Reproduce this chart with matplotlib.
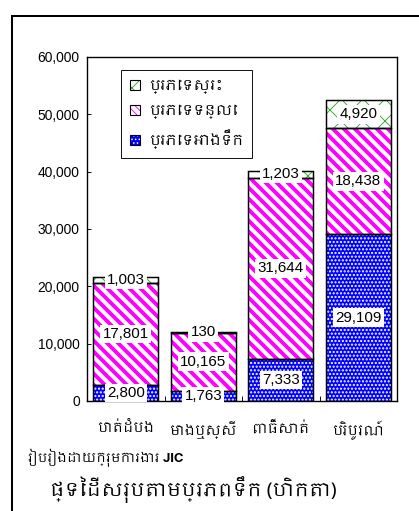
import matplotlib
matplotlib.use('Agg')
import matplotlib.pyplot as plt
from matplotlib import font_manager
from matplotlib.patches import Patch
from matplotlib.lines import Line2D
from matplotlib.collections import LineCollection
from matplotlib.transforms import IdentityTransform
from matplotlib.legend_handler import HandlerTuple
from matplotlib.ticker import FuncFormatter
import numpy as np

# data (hectares)
provinces = ['បាត់ដំបង', 'មោងឬស្សី', 'ពោធិ៍សាត់', 'បរិបូរណ៍']
reservoir = [2800, 1763, 7333, 29109]
river = [17801, 10165, 31644, 18438]
pond = [1003, 130, 1203, 4920]
series_names = ['ប្រភេទអាងទឹក', 'ប្រភេទទន្លេ', 'ប្រភេទស្រះ']
yticks = [0, 10000, 20000, 30000, 40000, 50000, 60000]
source_text = 'រៀបរៀងដោយក្រុមការងារ JIC'
title_text = 'ផ្ទៃដីសរុបតាមប្រភពទឹក (ហិកតា)'

# pick a khmer font if one is around
khmer = sorted({f.name for f in font_manager.fontManager.ttflist if 'khmer' in f.name.lower()})
kfam = khmer + ['DejaVu Sans']
nfam = ['Liberation Sans', 'DejaVu Sans']

DPI = 66
W, H = 419, 511
fig = plt.figure(figsize=(W / DPI, H / DPI), dpi=DPI)
ax = fig.add_axes([87 / W, 1 - 401 / H, 310 / W, 344 / H])
ax.set_xlim(-0.5, 3.5)
ax.set_ylim(0, 60000)

x = np.arange(len(provinces))
width = 0.84
MAGENTA = '#ff00ff'
# (face, hatch colour, hatch, hatch lw); river stripes are drawn by hand below
styles = [
    ('#0000ff', 'white', '...', 1.6),
    ('white', MAGENTA, '', 1.0),
    ('white', '#33aa33', 'x', 1.0),
]
bottom = np.zeros(len(provinces))
containers = []
for vals, (fc, hc, hatch, hlw) in zip([reservoir, river, pond], styles):
    vals = np.array(vals, dtype=float)
    bars = ax.bar(x, vals, width, bottom=bottom, facecolor=fc, edgecolor=hc,
                  hatch=hatch or None, linewidth=0, zorder=2)
    for b in bars:
        try:
            b.set_hatch_linewidth(hlw)
        except AttributeError:
            pass
    containers.append(bars)
    ax.bar(x, vals, width, bottom=bottom, fill=False, edgecolor='black',
           linewidth=1.6, zorder=3)
    for xi, v, b0 in zip(x, vals, bottom):
        ax.text(xi, b0 + v / 2, f'{int(v):,}', ha='center', va='center',
                fontsize=16.5, family=nfam, zorder=4,
                bbox=dict(facecolor='white', edgecolor='none', pad=2.5))
    bottom = bottom + vals

# thick "\\" stripes for the river bars, ~11 px apart
step = 11
segs = [[(c, 0), (c - H, H)] for c in np.arange(0, W + H + step, step)]
for b in containers[1]:
    lc = LineCollection(segs, colors=MAGENTA, linewidths=4.2,
                        transform=IdentityTransform(), zorder=2.5)
    ax.add_collection(lc, autolim=False)
    lc.set_clip_path(b)  # after add_collection, which resets the clip

ax.set_yticks(yticks)
ax.yaxis.set_major_formatter(FuncFormatter(lambda v, p: f'{int(v):,}'))
ax.tick_params(axis='y', direction='in', length=4, width=1, labelsize=15, pad=8)
for lab in ax.get_yticklabels():
    lab.set_family(nfam)
ax.set_xticks(x)
ax.set_xticklabels(provinces, family=kfam, fontsize=15)
ax.tick_params(axis='x', length=0, pad=22)
ax.set_xticks([0.5, 1.5, 2.5], minor=True)
ax.tick_params(axis='x', which='minor', direction='in', length=5, width=1)
for s in ax.spines.values():
    s.set_linewidth(1.5)

# legend, reversed order like the original
handles = []
for (fc, hc, hatch, hlw) in styles[::-1]:
    p1 = Patch(facecolor=fc, edgecolor=hc, hatch=hatch or '\\\\\\', linewidth=0)
    p2 = Patch(fill=False, edgecolor='black', linewidth=1.2)
    handles.append((p1, p2))
leg = ax.legend(handles, series_names[::-1], handler_map={tuple: HandlerTuple(ndivide=1)},
                loc='upper left', bbox_to_anchor=(0.087, 0.983), fancybox=False,
                edgecolor='black', framealpha=1, prop={'family': kfam, 'size': 16},
                handlelength=0.7, handleheight=0.7, handletextpad=0.6,
                labelspacing=0.7, borderpad=0.6)
leg.get_frame().set_linewidth(1)

# outer frame (left and top only)
fig.add_artist(Line2D([12 / W, 12 / W], [0, 1 - 16 / H], color='black', lw=2.2))
fig.add_artist(Line2D([12 / W, 1], [1 - 16 / H, 1 - 16 / H], color='black', lw=2.2))

fig.text(28 / W, 1 - 458 / H, source_text, family=kfam, fontsize=14, ha='left', va='center')
fig.text(193 / W, 1 - 490 / H, title_text, family=kfam, fontsize=21, fontweight='bold',
         ha='center', va='center')

fig.savefig('out.png', dpi=DPI)
